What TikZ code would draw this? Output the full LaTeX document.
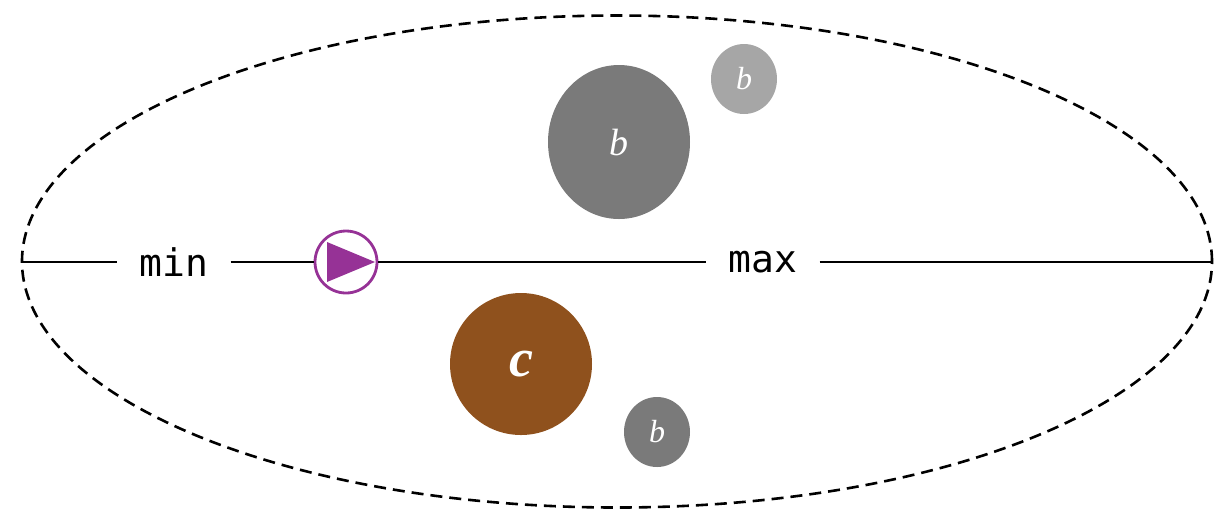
\documentclass[tikz,border=0pt]{standalone}
\usepackage{fontspec}
\newfontfamily\monofont{DejaVu Sans Mono}
\newfontfamily\letterfont{Liberation Serif}
\usetikzlibrary{shapes.geometric}
\definecolor{blobgray}{RGB}{122,122,122}
\definecolor{bloblight}{RGB}{166,166,166}
\definecolor{blobbrown}{RGB}{143,81,29}
\definecolor{playpurple}{RGB}{150,50,150}
\begin{document}
\begin{tikzpicture}[x=0.5pt,y=-0.5pt,
    blob/.style={ellipse,inner sep=0pt,text=white,font=\letterfont\itshape},
    axislbl/.style={inner xsep=11pt,inner ysep=0pt,font=\monofont\fontsize{19}{19}\selectfont}]
    \useasboundingbox (0,0) rectangle (1217,511);
    \draw[line width=1.3pt,dash pattern=on 6pt off 3.5pt] (617,261.5) ellipse [x radius=297.5pt,y radius=123pt];
    % axis
    \coordinate (lend) at (22,262);
    \coordinate (rend) at (1213,262);
    \node[axislbl] (minlbl) at (174,262) {min};
    \node[axislbl] (maxlbl) at (763,262) {max};
    \node[circle,draw=playpurple,line width=1.4pt,fill=white,minimum size=31pt,inner sep=0pt] (play) at (346,262) {};
    \draw[line width=1.2pt] (lend) -- (minlbl) -- (play) -- (maxlbl) -- (rend);
    \fill[playpurple] ([shift={(-19,-20)}]play.center) -- ([shift={(-19,20)}]play.center) -- ([shift={(29,0)}]play.center) -- cycle;
    % blobs
    \node[blob,fill=blobgray,minimum width=71pt,minimum height=77pt] (bigb) at (619,142) {\fontsize{19}{19}\selectfont b};
    \node[blob,fill=bloblight,minimum width=33pt,minimum height=35pt] (topb) at (744,79) {\fontsize{16}{16}\selectfont b};
    \node[blob,fill=blobbrown,minimum width=71pt,minimum height=71pt] (cblob) at (521,364) {\fontsize{27}{27}\selectfont\bfseries c};
    \node[blob,fill=blobgray,minimum width=33pt,minimum height=35pt] (lowb) at (657,432) {\fontsize{16}{16}\selectfont b};
\end{tikzpicture}
\end{document}
